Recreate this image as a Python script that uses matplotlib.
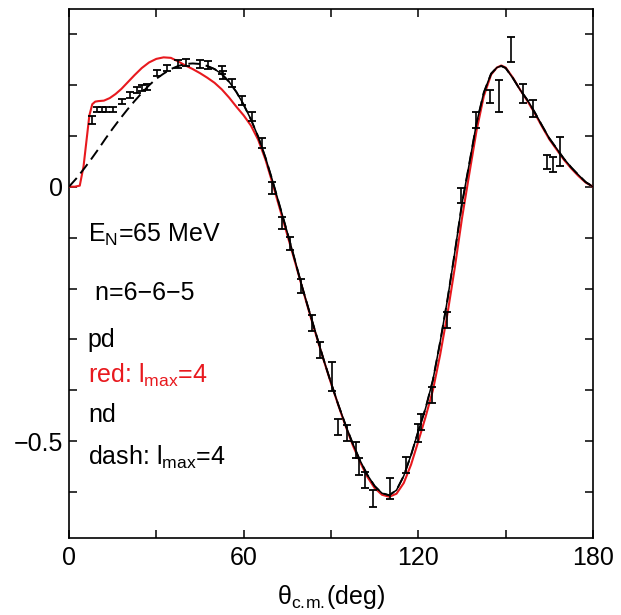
import numpy as np
import matplotlib
matplotlib.use("Agg")
import matplotlib.pyplot as plt
from matplotlib.ticker import MultipleLocator, FixedLocator

plt.rcParams['font.family'] = ['Liberation Sans', 'DejaVu Sans']
plt.rcParams['mathtext.fontset'] = 'custom'
plt.rcParams['mathtext.rm'] = 'Liberation Sans'
plt.rcParams['axes.unicode_minus'] = True

# measured analyzing power data (theta c.m. in deg, value, error)
theta_exp = [8.0, 9.7, 11.2, 12.7, 15.0, 18.1, 20.9, 23.3, 25.0, 26.9,
             30.3, 33.6, 37.5, 40.2, 45.0, 47.9, 52.5, 53.0, 55.9, 59.3,
             62.8, 66.2, 69.7, 73.1, 75.9, 79.7, 83.4, 86.2, 90.2, 92.5,
             95.4, 98.5, 99.5, 101.7, 104.5, 110.3, 115.8, 120.0, 120.8, 124.6,
             129.7, 134.7, 139.8, 144.6, 147.8, 151.7, 155.9, 159.5, 164.1, 166.2,
             168.7]
ay_exp = [0.131, 0.151, 0.151, 0.151, 0.151, 0.167, 0.180, 0.190, 0.193, 0.196,
          0.223, 0.233, 0.241, 0.244, 0.241, 0.239, 0.229, 0.219, 0.203, 0.170,
          0.138, 0.085, -0.003, -0.072, -0.111, -0.195, -0.268, -0.321, -0.373, -0.472,
          -0.484, -0.517, -0.550, -0.576, -0.612, -0.593, -0.547, -0.484, -0.462, -0.409,
          -0.262, -0.017, 0.131, 0.177, 0.178, 0.269, 0.183, 0.154, 0.049, 0.043,
          0.069]
ay_err = [0.008, 0.005, 0.005, 0.005, 0.005, 0.005, 0.005, 0.006, 0.006, 0.006,
          0.006, 0.006, 0.007, 0.007, 0.007, 0.007, 0.008, 0.008, 0.008, 0.009,
          0.009, 0.010, 0.012, 0.012, 0.013, 0.014, 0.015, 0.015, 0.028, 0.015,
          0.015, 0.016, 0.017, 0.016, 0.017, 0.020, 0.016, 0.018, 0.016, 0.015,
          0.016, 0.015, 0.015, 0.013, 0.032, 0.025, 0.019, 0.017, 0.014, 0.015,
          0.029]

# nd calculation, lmax=4 (dashed) and full (solid)
theta_nd = [0, 2.5, 5, 7.5, 10, 12.5, 15, 17.5, 20, 22.5,
            25, 27.5, 30, 32.5, 35, 37.5, 40, 42.5, 45, 47.5,
            50, 52.5, 55, 57.5, 60, 62.5, 65, 67.5, 70, 72.5,
            75, 77.5, 80, 82.5, 85, 87.5, 90, 92.5, 95, 97.5,
            100, 102.5, 105, 107.5, 110, 112.5, 115, 117.5, 120, 122.5,
            125, 127.5, 130, 132.5, 135, 137.5, 140, 142.5, 145, 147,
            148.5, 150, 152.5, 155, 157.5, 160, 162.5, 165, 167.5, 170,
            172.5, 175, 177.5, 180]
ay_nd = [0.000, 0.016, 0.034, 0.053, 0.073, 0.094, 0.114, 0.133, 0.151, 0.168,
         0.184, 0.199, 0.212, 0.222, 0.231, 0.237, 0.241, 0.242, 0.241, 0.237,
         0.231, 0.221, 0.206, 0.186, 0.161, 0.132, 0.098, 0.057, 0.010, -0.040,
         -0.090, -0.142, -0.195, -0.244, -0.292, -0.340, -0.385, -0.428, -0.468, -0.505,
         -0.538, -0.566, -0.588, -0.602, -0.606, -0.596, -0.568, -0.527, -0.480, -0.435,
         -0.380, -0.305, -0.222, -0.130, -0.033, 0.045, 0.125, 0.185, 0.222, 0.234,
         0.237, 0.233, 0.213, 0.190, 0.170, 0.146, 0.120, 0.095, 0.075, 0.055,
         0.038, 0.023, 0.009, 0.000]

# pd calculation, lmax=4 (red)
theta_pd = [0, 2, 3.7, 5, 6, 7, 8, 9, 10, 12,
            14, 16, 18, 20, 22.5, 25, 27.5, 30, 32.5, 35,
            37.5, 40, 42.5, 45, 47.5, 50, 52.5, 55, 57.5, 60,
            62.5, 65, 67.5, 70, 72.5, 75, 77.5, 80, 82.5, 85,
            87.5, 90, 92.5, 95, 97.5, 100, 102.5, 105, 107.5, 110,
            112.5, 115, 117.5, 120, 122.5, 125, 127.5, 130, 132.5, 135,
            137.5, 140, 142.5, 145, 147, 148.5, 150, 152.5, 155, 157.5,
            160, 162.5, 165, 167.5, 170, 172.5, 175, 177.5, 180]
ay_pd = [0.000, 0.000, 0.002, 0.040, 0.090, 0.140, 0.162, 0.167, 0.168, 0.169,
         0.174, 0.182, 0.192, 0.204, 0.219, 0.233, 0.244, 0.251, 0.254, 0.253,
         0.246, 0.238, 0.231, 0.223, 0.214, 0.204, 0.191, 0.175, 0.157, 0.140,
         0.120, 0.092, 0.053, 0.005, -0.045, -0.095, -0.145, -0.196, -0.246, -0.294,
         -0.341, -0.386, -0.429, -0.470, -0.508, -0.541, -0.570, -0.592, -0.605, -0.609,
         -0.603, -0.582, -0.546, -0.500, -0.452, -0.400, -0.330, -0.250, -0.160, -0.062,
         0.025, 0.110, 0.178, 0.220, 0.234, 0.238, 0.234, 0.214, 0.190, 0.168,
         0.144, 0.118, 0.093, 0.073, 0.053, 0.036, 0.021, 0.008, 0.000]

fig = plt.figure(figsize=(6.21, 6.15), dpi=100)
ax = fig.add_axes([0.1111, 0.1252, 0.8438, 0.8602])

ax.plot(theta_pd, ay_pd, color='#e8191e', lw=1.5, zorder=3)
ax.plot(theta_nd, ay_nd, color='black', lw=1.4, dashes=(6, 3), zorder=4)
# full nd result (solid) coincides with the dashed one beyond ~47 deg
ax.plot(theta_nd[19:], ay_nd[19:], color='black', lw=1.1, zorder=4)
ax.errorbar(theta_exp, ay_exp, yerr=ay_err, fmt='none', ecolor='black',
            elinewidth=1.2, capsize=3, capthick=1.3, zorder=5)

ax.set_xlim(0, 180)
ax.set_ylim(-0.69, 0.349)
ax.xaxis.set_major_locator(FixedLocator([0, 60, 120, 180]))
ax.xaxis.set_minor_locator(FixedLocator([30, 90, 150]))
ax.yaxis.set_major_locator(FixedLocator([-0.5, 0]))
ax.yaxis.set_minor_locator(MultipleLocator(0.1))
ax.set_yticklabels(['\u22120.5', '0'])
ax.tick_params(which='both', direction='in', length=5.5, width=1.1,
               top=True, right=True, labelsize=18, pad=6)
ax.tick_params(axis='y', pad=4)
for s in ax.spines.values():
    s.set_linewidth(1.2)

ax.set_xlabel('\u03b8$_\\mathregular{c.\\!m.\\!}$(deg)', fontsize=18, labelpad=9)

fs = 18
ax.text(6.5, -0.108, r'E$_\mathregular{N}$=65 MeV', fontsize=fs, va='baseline')
ax.text(6.5, -0.223, ' n=6\u22126\u22125', fontsize=fs, va='baseline')
ax.text(6.5, -0.314, 'pd', fontsize=fs, va='baseline')
ax.text(6.5, -0.385, r'red: l$_\mathregular{max}$=4', fontsize=fs, va='baseline',
        color='#e8191e')
ax.text(6.5, -0.462, 'nd', fontsize=fs, va='baseline')
ax.text(6.5, -0.547, r'dash: l$_\mathregular{max}$=4', fontsize=fs, va='baseline')

plt.savefig('out.png', dpi=100)
